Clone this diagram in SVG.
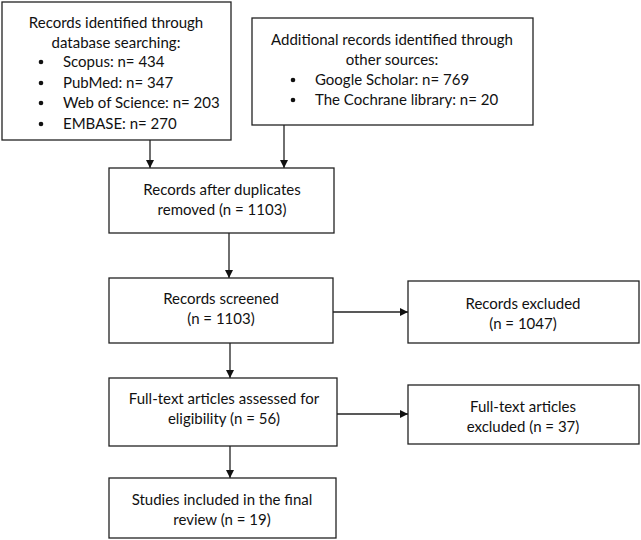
<svg xmlns="http://www.w3.org/2000/svg" width="641" height="540" viewBox="0 0 641 540">
<defs>
<marker id="ah" viewBox="0 0 10 10" refX="10" refY="5" markerWidth="8" markerHeight="8" markerUnits="userSpaceOnUse" orient="auto">
<path d="M0,0 L10,5 L0,10 z" fill="#111"/>
</marker>
<style>
.box{fill:#fff;stroke:#222;stroke-width:1.3}
text{font-family:Lato,"Open Sans","Liberation Sans",sans-serif;font-size:15px;fill:#111}
.c{text-anchor:middle}
.ln{stroke:#222;stroke-width:1.3;fill:none;marker-end:url(#ah)}
</style>
</defs>
<rect width="641" height="540" fill="#fff"/>
<g id="connectors">
<line class="ln" x1="150" y1="140" x2="150" y2="168"/>
<line class="ln" x1="284" y1="125" x2="284" y2="168"/>
<line class="ln" x1="229" y1="233" x2="229" y2="278"/>
<line class="ln" x1="333" y1="312" x2="408" y2="312"/>
<line class="ln" x1="230" y1="343" x2="230" y2="378"/>
<line class="ln" x1="337" y1="414" x2="408" y2="414"/>
<line class="ln" x1="230" y1="446" x2="230" y2="478"/>
</g>
<g id="n1">
<rect class="box" x="2" y="2" width="229" height="138"/>
<text class="c" x="116" y="28">Records identified through</text>
<text class="c" x="116" y="48">database searching:</text>
<circle cx="41" cy="62" r="2.3" fill="#111"/><text x="63" y="67">Scopus: n= 434</text>
<circle cx="41" cy="83" r="2.3" fill="#111"/><text x="63" y="88">PubMed: n= 347</text>
<circle cx="41" cy="103" r="2.3" fill="#111"/><text x="63" y="108">Web of Science: n= 203</text>
<circle cx="41" cy="124" r="2.3" fill="#111"/><text x="63" y="129">EMBASE: n= 270</text>
</g>
<g id="n2">
<rect class="box" x="252" y="18" width="281" height="107"/>
<text class="c" x="392" y="45">Additional records identified through</text>
<text class="c" x="392" y="65">other sources:</text>
<circle cx="293" cy="80" r="2.3" fill="#111"/><text x="315" y="85">Google Scholar: n= 769</text>
<circle cx="293" cy="100" r="2.3" fill="#111"/><text x="315" y="105">The Cochrane library: n= 20</text>
</g>
<g id="n3">
<rect class="box" x="109" y="168" width="225" height="65"/>
<text class="c" x="222" y="195">Records after duplicates</text>
<text class="c" x="222" y="215">removed (n = 1103)</text>
</g>
<g id="n4">
<rect class="box" x="109" y="278" width="224" height="65"/>
<text class="c" x="221" y="304">Records screened</text>
<text class="c" x="221" y="324">(n = 1103)</text>
</g>
<g id="n5">
<rect class="box" x="408" y="281" width="231" height="62"/>
<text class="c" x="523" y="309">Records excluded</text>
<text class="c" x="523" y="329">(n = 1047)</text>
</g>
<g id="n6">
<rect class="box" x="109" y="378" width="228" height="68"/>
<text class="c" x="224" y="404">Full-text articles assessed for</text>
<text class="c" x="224" y="424">eligibility (n = 56)</text>
</g>
<g id="n7">
<rect class="box" x="408" y="385" width="231" height="59"/>
<text class="c" x="523" y="412">Full-text articles</text>
<text class="c" x="523" y="432">excluded (n = 37)</text>
</g>
<g id="n8">
<rect class="box" x="109" y="478" width="227" height="60"/>
<text class="c" x="222" y="505">Studies included in the final</text>
<text class="c" x="222" y="525">review (n = 19)</text>
</g>
</svg>
